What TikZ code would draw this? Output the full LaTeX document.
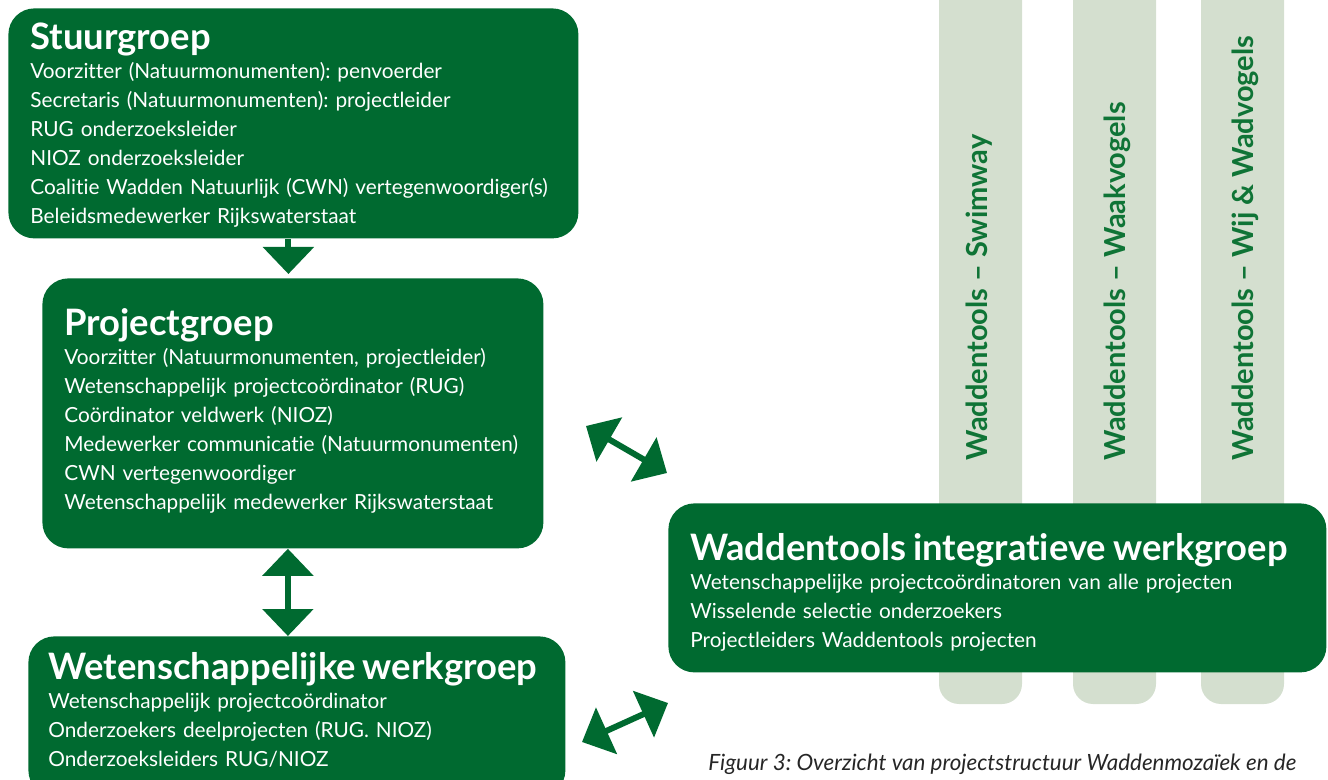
\documentclass[tikz,border=0pt]{standalone}
\usepackage{fontspec}
\setmainfont{Lato}[Ligatures=NoCommon]
\usetikzlibrary{arrows.meta}
\definecolor{wadgroen}{HTML}{006A30}
\definecolor{wadlicht}{HTML}{D4DFCF}
\definecolor{wadtekst}{HTML}{0F7436}
\newcommand{\kop}[1]{{\fontsize{18.2}{18}\selectfont\bfseries #1}\\}
\frenchspacing

\begin{document}
\begin{tikzpicture}[x=0.5pt,y=-0.5pt,
  groep/.style={fill=wadgroen, text=white, rounded corners=13pt, anchor=north west,
    align=left, inner xsep=11pt, inner ysep=0pt, font=\fontsize{10.4}{14.5}\selectfont},
  kolom/.style={rotate=90, anchor=west, inner sep=0pt, text=wadtekst,
    font=\fontsize{14.5}{15}\selectfont\bfseries},
  pijl/.style={draw=wadgroen, line width=3pt, >={Triangle[width=25pt,length=13.5pt]}}]
\clip (0,0) rectangle (1328,780);

\fill[wadlicht, rounded corners=10pt] (939,-40) rectangle (1022,704);
\fill[wadlicht, rounded corners=10pt] (1073,-40) rectangle (1156,704);
\fill[wadlicht, rounded corners=10pt] (1201,-40) rectangle (1284,704);
\node[kolom] (swim) at (979,461) {Waddentools – Swimway};
\node[kolom] (waak) at (1117,461) {Waddentools – Waakvogels};
\node[kolom] (wij) at (1245,461) {Waddentools – Wij \& Wadvogels};

\node[groep, text width=263pt, minimum height=115pt] (stuur) at (8,8) {\kop{Stuurgroep}
Voorzitter (Natuurmonumenten): penvoerder\\
Secretaris (Natuurmonumenten): projectleider\\
RUG onderzoeksleider\\
NIOZ onderzoeksleider\\
Coalitie Wadden Natuurlijk (CWN) vertegenwoordiger(s)\\
Beleidsmedewerker Rijkswaterstaat\par\vspace{-2pt}};

\node[groep, text width=228.5pt, minimum height=135pt] (project) at (42,278) {\kop{Projectgroep}
Voorzitter (Natuurmonumenten, projectleider)\\
Wetenschappelijk projectcoördinator (RUG)\\
Coördinator veldwerk (NIOZ)\\
Medewerker communicatie (Natuurmonumenten)\\
CWN vertegenwoordiger\\
Wetenschappelijk medewerker Rijkswaterstaat\par\vspace{3pt}};

\node[groep, text width=248.5pt, inner xsep=10pt, minimum height=80pt] (weten) at (28,636) {\kop{Wetenschappelijke werkgroep}
Wetenschappelijk projectcoördinator\\
Onderzoekers deelprojecten (RUG. NIOZ)\\
Onderzoeksleiders RUG/NIOZ\par\vspace{6pt}};

\node[groep, text width=307pt, minimum height=84.5pt] (integr) at (668,503) {\kop{Waddentools integratieve werkgroep}
Wetenschappelijke projectcoördinatoren van alle projecten\\
Wisselende selectie onderzoekers\\
Projectleiders Waddentools projecten\par\vspace{-4pt}};

\node[anchor=base west, inner sep=0pt, text=black!85, font=\fontsize{11.2}{12}\selectfont\itshape]
  (bijschrift) at (708,770) {Figuur 3: Overzicht van projectstructuur Waddenmozaïek en de};

\coordinate (a1) at (586,426);
\coordinate (a2) at (667,473);
\coordinate (b1) at (582,742);
\coordinate (b2) at (668,703);

\draw[pijl, ->] ([xshift=-2.5pt]stuur.south) -- ([xshift=-2.5pt,yshift=2pt]stuur.south |- project.north);
\draw[pijl, <->] ([xshift=-2.5pt]project.south) -- ([xshift=-2.5pt]project.south |- weten.north);
\draw[pijl, <->] (a1) -- (a2);
\draw[pijl, <->] (b1) -- (b2);
\end{tikzpicture}
\end{document}
